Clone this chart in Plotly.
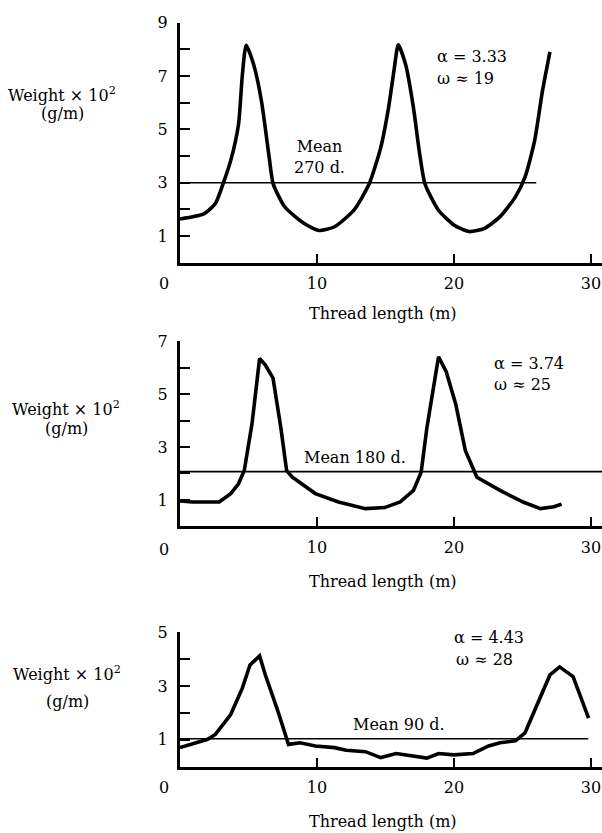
import plotly.graph_objects as go

# ---------------- data ----------------
top_x = [0, 1.74, 2.58, 3.14, 3.7, 4.27, 4.55, 4.83, 5.39, 5.95, 6.51, 6.8, 7.64, 9.04, 10.16,
         11.28, 12.69, 13.81, 14.65, 15.22, 15.64, 15.93, 16.48, 17.04, 17.46, 17.88, 18.87,
         19.99, 21.11, 22.23, 23.36, 24.48, 25.18, 25.88, 26.45, 27.0]
top_y = [1.64, 1.83, 2.22, 2.96, 3.83, 5.19, 7.04, 8.16, 7.41, 6.05, 3.95, 2.96, 2.1, 1.48, 1.21,
         1.35, 1.97, 2.96, 4.32, 5.81, 7.29, 8.18, 7.41, 5.81, 4.2, 2.96, 1.97,
         1.42, 1.17, 1.29, 1.73, 2.47, 3.21, 4.57, 6.43, 7.91]

mid_x = [0, 0.9, 2.86, 3.7, 4.27, 4.69, 5.25, 5.81, 6.23, 6.79, 7.36, 7.78, 8.2, 9.88, 11.57,
         13.53, 14.94, 16.06, 17.04, 17.6, 18.02, 18.87, 19.43, 20.13, 20.83, 21.67, 23.36,
         25.04, 26.31, 27.29, 27.85]
mid_y = [0.96, 0.92, 0.92, 1.24, 1.61, 2.11, 3.86, 6.35, 6.1, 5.61, 3.73, 2.11, 1.86, 1.24, 0.92,
         0.67, 0.71, 0.92, 1.36, 2.05, 3.73, 6.42, 5.85, 4.61, 2.86, 1.86, 1.36,
         0.92, 0.67, 0.74, 0.84]

bot_x = [0, 2.02, 2.58, 3.7, 4.55, 5.11, 5.81, 6.23, 7.07, 7.78, 7.92, 8.76, 9.88, 11.28, 12.13,
         13.53, 14.65, 15.78, 16.9, 18.02, 18.87, 19.99, 21.39, 22.52, 23.36, 24.48, 25.18,
         26.17, 27.0, 27.71, 28.69, 29.82]
bot_y = [0.71, 1.02, 1.2, 1.94, 2.92, 3.78, 4.12, 3.41, 2.18, 0.96, 0.83, 0.89, 0.77, 0.71, 0.61,
         0.56, 0.34, 0.49, 0.4, 0.32, 0.49, 0.44, 0.49, 0.77, 0.89, 0.96, 1.26,
         2.43, 3.41, 3.71, 3.35, 1.81]

mean_top_x = [0, 26.0]
mean_top_y = [3.0, 3.0]
mean_mid_x = [0, 30.8]
mean_mid_y = [2.07, 2.07]
mean_bot_x = [0, 29.8]
mean_bot_y = [1.04, 1.04]

x_tickvals = [10, 20, 30]
x_ticktext = ["10", "20", "30"]
top_ytickvals = [1, 3, 5, 7, 9]
mid_ytickvals = [1, 3, 5, 7]
bot_ytickvals = [1, 3, 5]

panel_text = [
    ("α = 3.33", "ω ≈ 19", "Mean<br>270 d."),
    ("α = 3.74", "ω ≈ 25", "Mean 180 d."),
    ("α = 4.43", "ω ≈ 28", "Mean 90 d."),
]

# ---------------- figure ----------------
W, H = 602, 833
FONT = "DejaVu Serif"
FS = 16

def px(x):
    return x / W

def py(y):
    return 1 - y / H

fig = go.Figure()

curve_style = dict(color="black", width=3.6)
mean_style = dict(color="black", width=1.6)

fig.add_trace(go.Scatter(x=top_x, y=top_y, mode="lines", line=dict(**curve_style, shape="spline", smoothing=0.6),
                         xaxis="x", yaxis="y", showlegend=False))
fig.add_trace(go.Scatter(x=mean_top_x, y=mean_top_y, mode="lines", line=mean_style,
                         xaxis="x", yaxis="y", showlegend=False))
fig.add_trace(go.Scatter(x=mid_x, y=mid_y, mode="lines", line=curve_style,
                         xaxis="x2", yaxis="y2", showlegend=False))
fig.add_trace(go.Scatter(x=mean_mid_x, y=mean_mid_y, mode="lines", line=mean_style,
                         xaxis="x2", yaxis="y2", showlegend=False, cliponaxis=False))
fig.add_trace(go.Scatter(x=bot_x, y=bot_y, mode="lines", line=curve_style,
                         xaxis="x3", yaxis="y3", showlegend=False))
fig.add_trace(go.Scatter(x=mean_bot_x, y=mean_bot_y, mode="lines", line=mean_style,
                         xaxis="x3", yaxis="y3", showlegend=False))

xdom = [180 / W, 1.0]
ydoms = [
    [py(256.5), py(14)],
    [py(523), py(336)],
    [py(766), py(630)],
]
yranges = [[0, 9], [0, 7], [0, 5]]
ytv = [top_ytickvals, mid_ytickvals, bot_ytickvals]

tickfont = dict(family=FONT, size=FS, color="black")
layout = dict(
    width=W, height=H,
    margin=dict(l=0, r=0, t=0, b=0),
    paper_bgcolor="white", plot_bgcolor="white",
    showlegend=False,
    font=dict(family=FONT, size=FS, color="black"),
)
for i in range(3):
    s = "" if i == 0 else str(i + 1)
    layout["xaxis" + s] = dict(
        domain=xdom, range=[0, 30.8], anchor="y" + s,
        showline=True, linewidth=3, linecolor="black",
        ticks="inside", ticklen=9, tickwidth=2, tickcolor="black",
        tickvals=x_tickvals, ticktext=x_ticktext, tickfont=tickfont,
        ticklabelstandoff=4,
        showgrid=False, zeroline=False, fixedrange=True,
    )
    layout["yaxis" + s] = dict(
        domain=ydoms[i], range=yranges[i], anchor="x" + s,
        showline=True, linewidth=3, linecolor="black",
        ticks="inside", ticklen=10, tickwidth=2, tickcolor="black",
        tickvals=ytv[i], tickfont=tickfont,
        minor=dict(ticks="inside", dtick=1, tick0=0, ticklen=10, tickwidth=2, tickcolor="black", showgrid=False),
        ticklabelstandoff=6,
        showgrid=False, zeroline=False, fixedrange=True,
    )
fig.update_layout(**layout)

ann = []
def add(text, x, y, xref, yref, xanchor="center", yanchor="middle"):
    ann.append(dict(text=text, x=x, y=y, xref=xref, yref=yref, xanchor=xanchor, yanchor=yanchor,
                    showarrow=False, font=dict(family=FONT, size=FS, color="black")))

# in-plot labels (data coordinates)
add(panel_text[0][0], 18.6, 7.74, "x", "y", xanchor="left")
add(panel_text[0][1], 18.6, 6.92, "x", "y", xanchor="left")
add(panel_text[0][2], 10.15, 3.95, "x", "y")
add(panel_text[1][0], 22.8, 6.18, "x2", "y2", xanchor="left")
add(panel_text[1][1], 22.8, 5.36, "x2", "y2", xanchor="left")
add(panel_text[1][2], 12.77, 2.62, "x2", "y2")
add(panel_text[2][0], 19.85, 4.82, "x3", "y3", xanchor="left")
add(panel_text[2][1], 20.0, 4.0, "x3", "y3", xanchor="left")
add(panel_text[2][2], 16.0, 1.58, "x3", "y3")

# offset "0" labels below each x axis
for yy in (278, 546.7, 786.7):
    add("0", px(164), py(yy), "paper", "paper")

# axis titles
for yy in (307.5, 579, 821):
    add("Thread length (m)", px(383), py(yy), "paper", "paper")
for (cx, y1, y2) in ((62, 86, 106), (66, 404, 424), (67, 672, 700)):
    add("Weight × 10<sup>2</sup>", px(cx), py(y1), "paper", "paper")
    add("(g/m)", px(cx), py(y2), "paper", "paper")

fig.update_layout(annotations=ann)
fig.write_html("out.html")
